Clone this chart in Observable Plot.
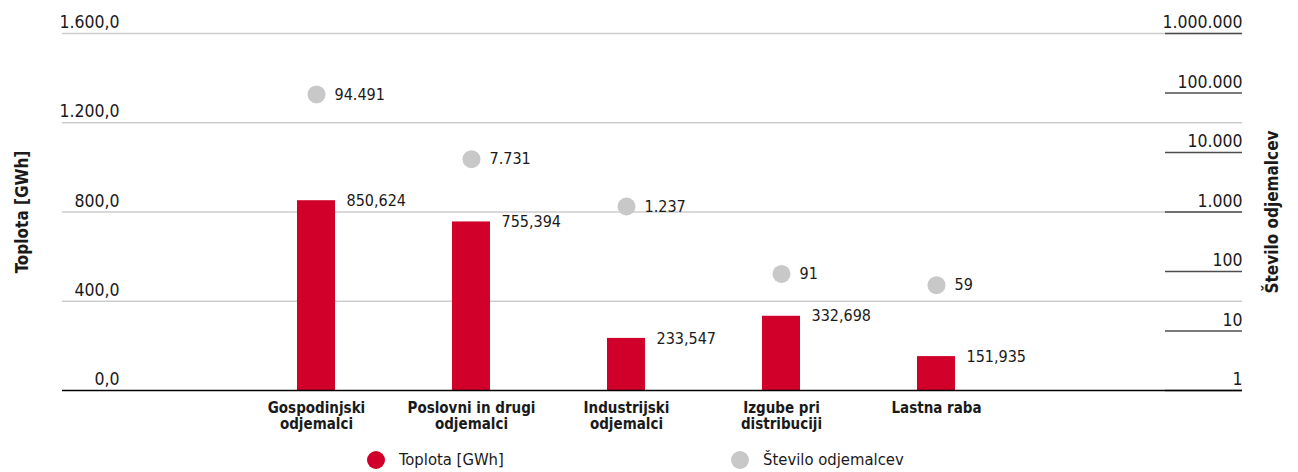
<!DOCTYPE html>
<html><head><meta charset="utf-8">
<script src="https://cdn.jsdelivr.net/npm/d3@7"></script>
<script src="https://cdn.jsdelivr.net/npm/@observablehq/plot@0.6"></script>
<style>
body{margin:0;background:#fff;font-family:"Liberation Sans Narrow","DejaVu Sans Condensed","Roboto Condensed",sans-serif;font-stretch:condensed;color:#1a1a1a;}
#legend{position:relative;height:30px;font-size:16.5px;}
.item{position:absolute;top:8px;display:flex;align-items:center;gap:14px;}
.sw{width:18px;height:18px;border-radius:50%;display:inline-block;}
</style></head><body>
<div id="chart"></div>
<div id="legend">
  <div class="item" style="left:367px"><span class="sw" style="background:#d1002a"></span><span>Toplota [GWh]</span></div>
  <div class="item" style="left:731px"><span class="sw" style="background:#c8c8c8"></span><span>Število odjemalcev</span></div>
</div>
<script>
const categories = ["Gospodinjski\nodjemalci", "Poslovni in drugi\nodjemalci", "Industrijski\nodjemalci", "Izgube pri\ndistribuciji", "Lastna raba"];
const toplota = [850.624, 755.394, 233.547, 332.698, 151.935];
const odjemalci = [94491, 7731, 1237, 91, 59];
const leftTicks = [0, 400, 800, 1200, 1600];
const rightTicks = [1, 10, 100, 1000, 10000, 100000, 1000000];

const FONT = '"Liberation Sans Narrow","DejaVu Sans Condensed","Roboto Condensed",sans-serif';
const loc = d3.formatLocale({decimal: ",", thousands: ".", grouping: [3], currency: ["", "€"]});
const f1 = loc.format(",.1f"), f3 = loc.format(",.3f"), fi = loc.format(",d");
const yMax = d3.max(leftTicks);
const decades = Math.log10(d3.max(rightTicks));
const toLeft = v => Math.log10(v) / decades * yMax;

const data = categories.map((c, i) => ({cat: c, toplota: toplota[i], odj: odjemalci[i]}));

const plot = Plot.plot({
  width: 1298, height: 442,
  marginLeft: 62, marginRight: 56, marginTop: 33, marginBottom: 52,
  style: {fontFamily: FONT, fontSize: "17px", color: "#1a1a1a", fontStretch: "condensed"},
  x: {domain: categories, range: [219.5, 1032.5], paddingInner: 0.755, paddingOuter: 0.5, axis: null},
  y: {domain: [0, yMax], axis: null},
  marks: [
    Plot.ruleY(leftTicks.filter(d => d > 0), {stroke: "#cccccc", strokeWidth: 1.5}),
    Plot.ruleY(rightTicks, {y: toLeft, stroke: "#4d4d4d", strokeWidth: 1.5, insetLeft: 1103}),
    Plot.text(leftTicks, {y: d => d, text: d => f1(d), frameAnchor: "left", textAnchor: "end", dx: 57, dy: -11, fontSize: 17.5}),
    Plot.text(rightTicks, {y: toLeft, text: d => fi(d), frameAnchor: "right", textAnchor: "end", dy: -11, fontSize: 17.5}),
    Plot.barY(data, {x: "cat", y: "toplota", fill: "#d1002a"}),
    Plot.ruleY([0], {stroke: "#000", strokeWidth: 1.5}),
    Plot.text(data, {x: "cat", y: "toplota", text: d => f3(d.toplota), textAnchor: "start", dx: 30, fontSize: 16}),
    Plot.dot(data, {x: "cat", y: d => toLeft(d.odj), r: 9, fill: "#c8c8c8"}),
    Plot.text(data, {x: "cat", y: d => toLeft(d.odj), text: d => fi(d.odj), textAnchor: "start", dx: 18, fontSize: 16}),
    Plot.text(data, {x: "cat", text: "cat", frameAnchor: "bottom", lineAnchor: "top", dy: 10, fontWeight: "bold", fontSize: 15, lineHeight: 1.13}),
    Plot.text(["Toplota [GWh]"], {frameAnchor: "left", textAnchor: "middle", rotate: -90, dx: -40, fontWeight: "bold", fontSize: 17}),
    Plot.text(["Število odjemalcev"], {frameAnchor: "right", textAnchor: "middle", rotate: -90, dx: 30, fontWeight: "bold", fontSize: 17})
  ]
});
document.getElementById("chart").appendChild(plot);
</script>
</body></html>
